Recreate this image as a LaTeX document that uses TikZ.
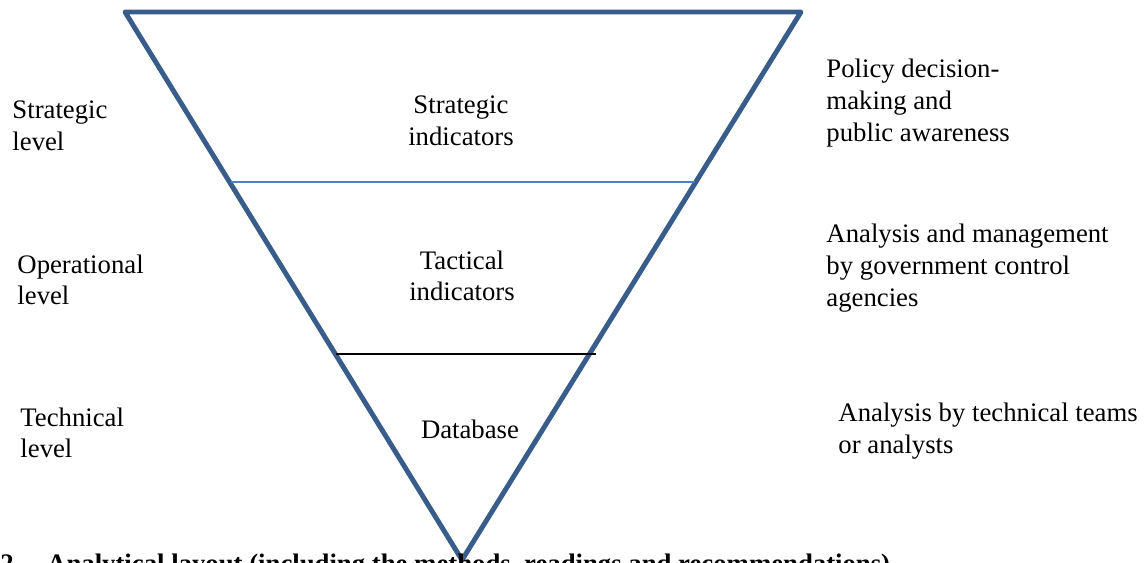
\documentclass[tikz,border=0pt]{standalone}
\usepackage{fontspec}
\setmainfont{Liberation Serif}
\usepackage{tikz}
\definecolor{edgeblue}{HTML}{385D8A}
\definecolor{lineblue}{HTML}{4F81BD}
\tikzset{
  lbl/.style={font=\fontsize{11.9}{14.1}\selectfont, inner sep=0pt},
  sidelbl/.style={lbl, anchor=west, align=left},
  midlbl/.style={lbl, align=center}
}

\begin{document}
\begin{tikzpicture}[x=0.445pt, y=-0.445pt]
      \useasboundingbox (0, 0) rectangle (1144, 563);
      % funnel
      \coordinate (tl) at (125, 12);
      \coordinate (tr) at (801, 12);
      \coordinate (tip) at (462, 560);
      \draw[edgeblue, line width=2.2pt, line join=round] (tl) -- (tr) -- (tip) -- cycle;
      \draw[lineblue, line width=0.7pt] (231, 182) -- (695, 182);
      \draw[black, line width=0.7pt] (336, 354) -- (596, 354);
      % inside the funnel
      \node[midlbl] (strat) at (461, 121) {Strategic\\indicators};
      \node[midlbl] (tact) at (462, 276) {Tactical\\indicators};
      \node[midlbl] (db) at (470, 429) {Database};
      % levels
      \node[sidelbl] (lstrat) at (12, 126) {Strategic\\level};
      \node[sidelbl] (lop) at (17, 280) {Operational\\level};
      \node[sidelbl] (ltech) at (20, 433) {Technical\\level};
      % users
      \node[sidelbl] (ustrat) at (826, 103) {Policy decision-\\making and\\public awareness};
      \node[sidelbl] (uop) at (826, 268) {Analysis and management\\by government control\\agencies};
      \node[sidelbl] (utech) at (838, 431) {Analysis by technical teams\\or analysts};
      % caption, cut by the page edge
      \node[lbl, anchor=base west, font=\bfseries\fontsize{11.9}{14.1}\selectfont] (cap) at (0, 573)
        {2.\quad Analytical layout (including the methods, readings and recommendations)};
    \end{tikzpicture}
\end{document}
